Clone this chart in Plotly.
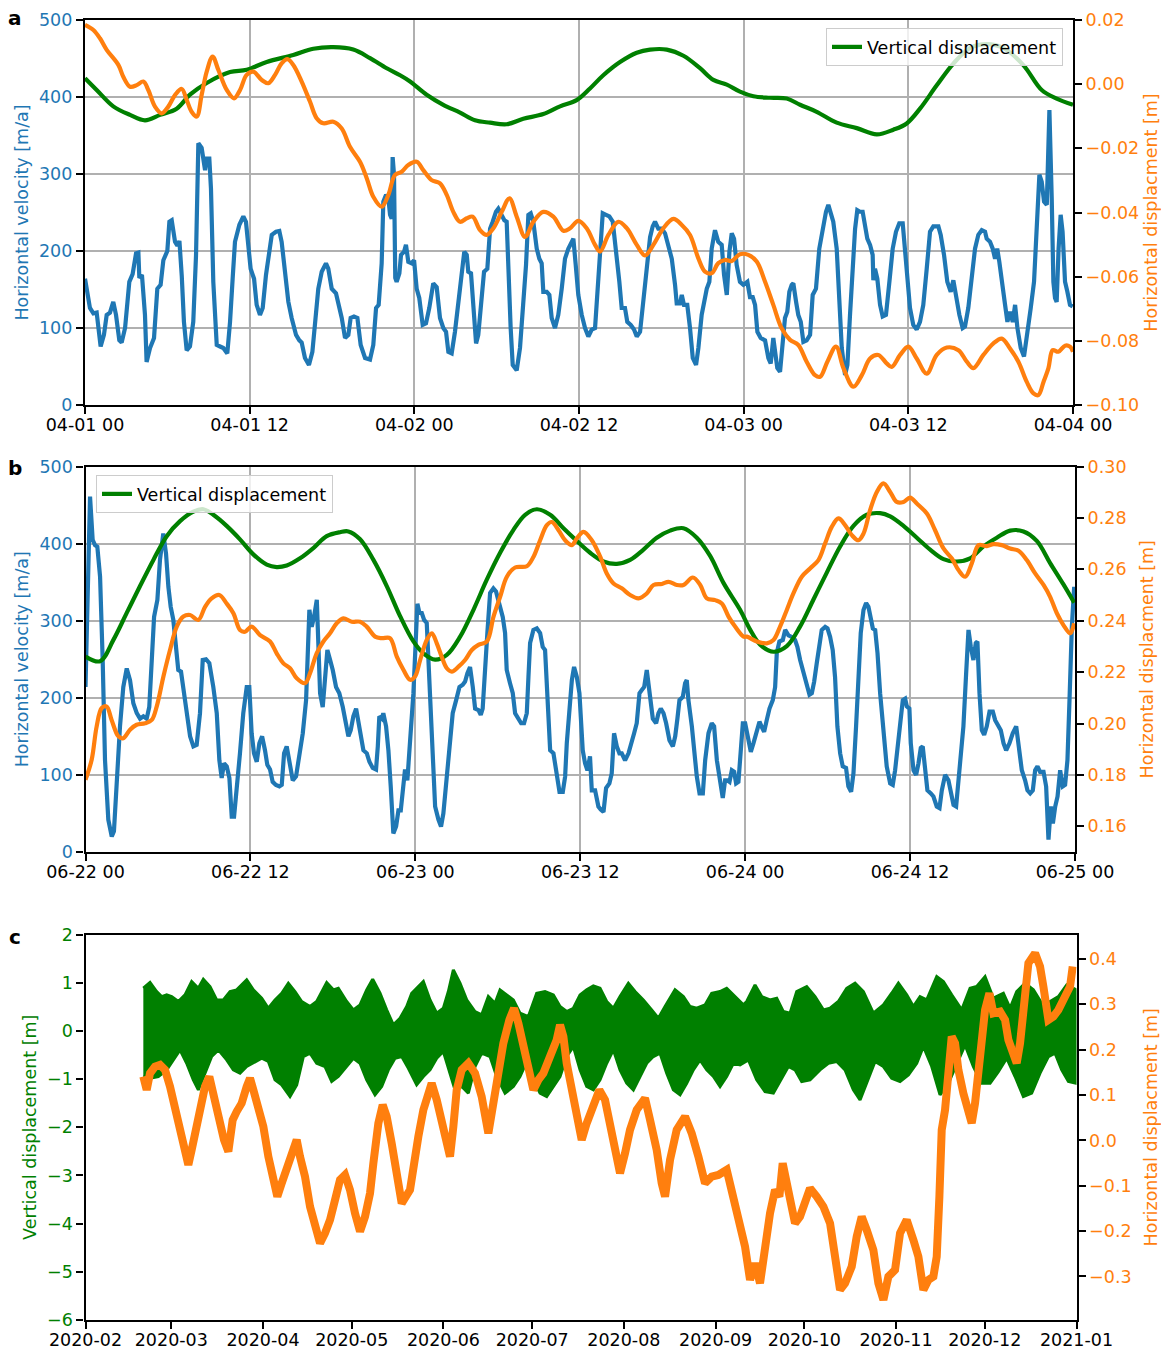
import pandas as pd
import plotly.graph_objects as go

# ---------------------------------------------------------------------------
# Panel a: 1-4 April 2020 (hours since 2020-04-01 00:00, value)
# ---------------------------------------------------------------------------
A_START = "2020-04-01 00:00"

A_VELOCITY = [  # horizontal velocity [m/a]
    (0.00, 164), (0.36, 126), (0.61, 119), (0.85, 120), (1.14, 76), (1.38, 91), (1.58, 117), (1.82, 120),
    (2.06, 134), (2.26, 117), (2.50, 84), (2.67, 81), (2.92, 100), (3.23, 160), (3.47, 170), (3.72, 197),
    (3.89, 198), (3.96, 165), (4.15, 169), (4.37, 117), (4.49, 56), (4.74, 74), (5.03, 87), (5.27, 151),
    (5.51, 156), (5.71, 188), (6.00, 200), (6.15, 238), (6.32, 240), (6.56, 212), (6.73, 207), (6.88, 213),
    (7.05, 168), (7.21, 108), (7.41, 71), (7.65, 76), (7.89, 108), (8.09, 194), (8.26, 340), (8.50, 334),
    (8.75, 305), (8.87, 320), (9.06, 320), (9.18, 281), (9.35, 160), (9.60, 78), (9.84, 76), (10.08, 74),
    (10.37, 67), (10.57, 108), (10.76, 164), (10.93, 212), (11.25, 234), (11.54, 245), (11.73, 238),
    (11.90, 203), (12.07, 177), (12.32, 164), (12.51, 130), (12.75, 117), (12.95, 126), (13.19, 169),
    (13.43, 203), (13.61, 221), (13.92, 225), (14.16, 226), (14.33, 212), (14.58, 173), (14.82, 134),
    (15.06, 113), (15.38, 91), (15.62, 84), (15.79, 81), (16.03, 61), (16.32, 52), (16.57, 69), (16.76, 108),
    (17.00, 151), (17.25, 173), (17.56, 184), (17.73, 177), (17.98, 151), (18.29, 145), (18.46, 132),
    (18.71, 113), (18.95, 87), (19.19, 91), (19.36, 113), (19.60, 115), (19.85, 113), (20.09, 78),
    (20.41, 61), (20.77, 59), (21.01, 78), (21.21, 126), (21.40, 130), (21.62, 184), (21.74, 264),
    (21.94, 273), (22.11, 268), (22.23, 247), (22.35, 242), (22.42, 322), (22.52, 299), (22.61, 165),
    (22.71, 160), (22.91, 171), (23.03, 195), (23.25, 199), (23.39, 208), (23.56, 186), (23.81, 184),
    (23.98, 188), (24.17, 151), (24.36, 139), (24.61, 104), (24.85, 106), (25.09, 126), (25.38, 158),
    (25.63, 153), (25.87, 113), (26.11, 100), (26.31, 95), (26.48, 69), (26.72, 67), (26.96, 95),
    (27.21, 134), (27.45, 177), (27.64, 199), (27.82, 195), (27.93, 173), (28.13, 171), (28.30, 126),
    (28.50, 80), (28.66, 91), (28.91, 134), (29.08, 173), (29.32, 177), (29.52, 229), (29.71, 238),
    (29.95, 251), (30.12, 255), (30.37, 247), (30.56, 240), (30.73, 238), (30.85, 169), (31.02, 100),
    (31.17, 52), (31.46, 45), (31.70, 74), (31.94, 126), (32.14, 182), (32.31, 247), (32.48, 249),
    (32.67, 238), (32.92, 203), (33.11, 190), (33.28, 184), (33.40, 147), (33.65, 147), (33.84, 143),
    (34.01, 113), (34.25, 100), (34.49, 117), (34.74, 151), (34.98, 190), (35.22, 203), (35.47, 212),
    (35.59, 216), (35.76, 182), (35.95, 143), (36.20, 117), (36.44, 100), (36.68, 89), (36.93, 98),
    (37.17, 100), (37.34, 147), (37.53, 203), (37.73, 249), (37.97, 247), (38.21, 245), (38.46, 238),
    (38.70, 203), (38.94, 160), (39.11, 126), (39.35, 126), (39.52, 108), (39.77, 104), (40.01, 98),
    (40.21, 89), (40.45, 95), (40.69, 139), (40.94, 186), (41.18, 218), (41.37, 232), (41.54, 238),
    (41.78, 229), (42.03, 229), (42.27, 223), (42.51, 208), (42.76, 190), (43.00, 156), (43.12, 132),
    (43.36, 132), (43.49, 143), (43.65, 130), (43.89, 130), (44.09, 100), (44.29, 61), (44.53, 52),
    (44.70, 74), (44.94, 117), (45.31, 151), (45.50, 160), (45.67, 203), (45.91, 227), (46.15, 212),
    (46.40, 208), (46.57, 169), (46.77, 143), (46.96, 199), (47.13, 223), (47.30, 216), (47.49, 182),
    (47.73, 160), (47.98, 156), (48.10, 158), (48.27, 160), (48.46, 140), (48.66, 140), (48.83, 130),
    (49.00, 95), (49.24, 87), (49.56, 84), (49.80, 61), (49.97, 54), (50.16, 87), (50.28, 69), (50.45, 48),
    (50.65, 43), (50.84, 87), (51.01, 113), (51.18, 121), (51.33, 147), (51.50, 156), (51.62, 158),
    (51.82, 134), (51.98, 117), (52.16, 108), (52.35, 82), (52.59, 84), (52.84, 91), (53.03, 143),
    (53.27, 151), (53.51, 203), (53.76, 229), (54.00, 251), (54.17, 260), (54.34, 247), (54.53, 238),
    (54.78, 203), (54.97, 130), (55.15, 74), (55.39, 39), (55.56, 52), (55.75, 117), (55.95, 177),
    (56.12, 229), (56.28, 253), (56.48, 251), (56.67, 251), (56.84, 229), (57.01, 216), (57.21, 208),
    (57.40, 195), (57.45, 162), (57.57, 177), (57.74, 164), (57.94, 130), (58.13, 115), (58.37, 117),
    (58.62, 160), (58.86, 203), (59.10, 225), (59.34, 236), (59.59, 236), (59.76, 195), (59.93, 160),
    (60.12, 126), (60.36, 104), (60.61, 98), (60.85, 108), (61.09, 130), (61.34, 177), (61.58, 225),
    (61.82, 232), (62.19, 232), (62.36, 221), (62.60, 195), (62.84, 160), (63.09, 147), (63.28, 162),
    (63.48, 139), (63.72, 117), (63.96, 100), (64.13, 102), (64.37, 126), (64.62, 160), (64.86, 203),
    (65.10, 221), (65.35, 227), (65.59, 225), (65.71, 216), (65.95, 212), (66.15, 203), (66.32, 190),
    (66.48, 203), (66.63, 186), (66.80, 160), (67.05, 130), (67.22, 108), (67.41, 121), (67.61, 108),
    (67.78, 130), (67.95, 100), (68.19, 74), (68.43, 63), (68.67, 91), (68.92, 126), (69.16, 160),
    (69.36, 225), (69.55, 299), (69.72, 290), (69.89, 264), (70.09, 260), (70.28, 383), (70.45, 268),
    (70.57, 160), (70.69, 139), (70.81, 134), (70.95, 203), (71.10, 247), (71.24, 225), (71.42, 160),
    (71.59, 147), (71.78, 130), (71.98, 128),
]

A_HDISP = [  # horizontal displacement [m]
    (0.00, 0.0185), (0.61, 0.0169), (1.09, 0.0143), (1.58, 0.0107), (2.43, 0.0060), (2.79, 0.0023),
    (3.28, -0.0008), (3.77, -0.0003), (4.25, 0.0008), (4.62, -0.0019), (5.10, -0.0070), (5.59, -0.0091),
    (6.07, -0.0070), (6.56, -0.0034), (7.05, -0.0015), (7.41, -0.0049), (7.77, -0.0086), (8.14, -0.0101),
    (8.50, -0.0034), (8.87, 0.0039), (9.30, 0.0086), (9.72, 0.0044), (10.33, -0.0018), (10.86, -0.0044),
    (11.30, -0.0018), (11.78, 0.0029), (12.27, 0.0039), (12.88, 0.0013), (13.36, 0.0003), (13.85, 0.0029),
    (14.33, 0.0065), (14.75, 0.0078), (15.18, 0.0060), (15.79, 0.0008), (16.40, -0.0055), (16.88, -0.0106),
    (17.37, -0.0122), (18.10, -0.0117), (18.71, -0.0138), (19.31, -0.0195), (20.04, -0.0242),
    (20.53, -0.0293), (21.01, -0.0351), (21.62, -0.0382), (22.11, -0.0345), (22.59, -0.0283),
    (23.08, -0.0273), (23.56, -0.0252), (24.17, -0.0242), (24.65, -0.0268), (25.26, -0.0299),
    (25.87, -0.0309), (26.36, -0.0345), (26.84, -0.0398), (27.33, -0.0429), (27.82, -0.0418),
    (28.25, -0.0413), (28.79, -0.0455), (29.27, -0.0470), (29.76, -0.0449), (30.37, -0.0398),
    (30.93, -0.0356), (31.46, -0.0413), (32.07, -0.0476), (32.67, -0.0429), (33.40, -0.0398),
    (34.13, -0.0413), (34.86, -0.0457), (35.35, -0.0449), (35.95, -0.0426), (36.56, -0.0449),
    (37.17, -0.0501), (37.53, -0.0522), (38.14, -0.0470), (38.87, -0.0429), (39.48, -0.0449),
    (40.21, -0.0501), (40.81, -0.0534), (41.42, -0.0501), (42.15, -0.0449), (42.88, -0.0420),
    (43.49, -0.0439), (44.09, -0.0470), (44.70, -0.0543), (45.18, -0.0584), (45.67, -0.0589),
    (46.15, -0.0558), (46.64, -0.0548), (47.13, -0.0551), (47.73, -0.0530), (48.34, -0.0532),
    (48.95, -0.0553), (49.56, -0.0616), (50.16, -0.0688), (50.77, -0.0761), (51.38, -0.0797),
    (51.98, -0.0813), (52.59, -0.0865), (53.20, -0.0907), (53.57, -0.0912), (54.10, -0.0865),
    (54.73, -0.0818), (55.27, -0.0885), (56.00, -0.0943), (56.61, -0.0907), (57.21, -0.0855),
    (57.81, -0.0844), (58.42, -0.0870), (58.79, -0.0881), (59.40, -0.0844), (60.00, -0.0818),
    (60.61, -0.0855), (61.34, -0.0902), (62.07, -0.0844), (62.80, -0.0821), (63.65, -0.0829),
    (64.26, -0.0865), (64.74, -0.0885), (65.47, -0.0844), (66.20, -0.0808), (66.81, -0.0793),
    (67.41, -0.0824), (68.02, -0.0865), (68.63, -0.0928), (69.12, -0.0964), (69.48, -0.0969),
    (69.85, -0.0928), (70.21, -0.0885), (70.52, -0.0829), (70.93, -0.0834), (71.42, -0.0815),
    (71.78, -0.0818), (72.00, -0.0834),
]

A_VDISP = [  # vertical displacement [m]
    (0.00, 0.10), (0.85, -0.05), (2.06, -0.26), (3.28, -0.37), (4.37, -0.44), (5.47, -0.37), (6.68, -0.29),
    (7.65, -0.11), (8.87, 0.04), (10.57, 0.18), (11.78, 0.21), (13.24, 0.31), (15.18, 0.40), (16.64, 0.48),
    (18.10, 0.50), (19.55, 0.47), (20.77, 0.36), (21.99, 0.23), (22.96, 0.14), (23.69, 0.06),
    (24.90, -0.11), (26.11, -0.24), (27.33, -0.34), (28.42, -0.44), (29.52, -0.47), (30.73, -0.49),
    (31.94, -0.42), (33.40, -0.36), (34.62, -0.26), (35.83, -0.18), (36.80, -0.03), (37.77, 0.14),
    (38.99, 0.31), (40.21, 0.43), (41.18, 0.47), (42.39, 0.47), (43.61, 0.39), (44.82, 0.23), (45.79, 0.08),
    (46.77, 0.02), (47.73, -0.07), (48.71, -0.13), (49.92, -0.15), (51.14, -0.16), (52.11, -0.24),
    (53.32, -0.33), (54.78, -0.47), (56.24, -0.54), (57.70, -0.62), (58.91, -0.56), (59.88, -0.48),
    (60.85, -0.29), (62.07, 0.01), (63.28, 0.29), (64.50, 0.49), (65.71, 0.54), (66.92, 0.49), (68.38, 0.27),
    (69.72, -0.05), (70.81, -0.16), (72.00, -0.24),
]

# ---------------------------------------------------------------------------
# Panel b: 22-25 June 2020 (hours since 2020-06-22 00:00, value)
# ---------------------------------------------------------------------------
B_START = "2020-06-22 00:00"

B_VELOCITY = [
    (0.00, 214), (0.33, 461), (0.52, 405), (0.69, 398), (0.86, 396), (1.06, 357), (1.25, 249), (1.42, 119),
    (1.66, 42), (1.91, 20), (2.07, 27), (2.27, 93), (2.51, 163), (2.75, 214), (3.00, 238), (3.24, 223),
    (3.48, 193), (3.73, 180), (3.97, 173), (4.21, 176), (4.45, 173), (4.64, 188), (4.82, 249), (4.99, 305),
    (5.23, 327), (5.42, 379), (5.66, 413), (5.86, 387), (6.03, 344), (6.20, 318), (6.39, 301), (6.59, 262),
    (6.75, 236), (6.95, 234), (7.17, 206), (7.36, 188), (7.61, 150), (7.85, 137), (8.09, 139), (8.33, 180),
    (8.53, 249), (8.77, 250), (9.01, 245), (9.30, 214), (9.55, 180), (9.74, 119), (9.91, 96), (10.08, 115),
    (10.28, 111), (10.47, 96), (10.64, 46), (10.81, 46), (11.01, 80), (11.24, 128), (11.48, 180),
    (11.73, 214), (11.92, 214), (12.09, 154), (12.26, 128), (12.46, 117), (12.65, 141), (12.85, 150),
    (13.06, 132), (13.23, 113), (13.43, 107), (13.62, 91), (13.86, 87), (14.11, 85), (14.28, 87),
    (14.45, 128), (14.64, 137), (14.83, 119), (15.08, 93), (15.32, 98), (15.56, 128), (15.81, 154),
    (16.05, 197), (16.29, 314), (16.46, 292), (16.63, 305), (16.83, 327), (16.94, 284), (17.07, 206),
    (17.26, 188), (17.43, 223), (17.60, 262), (17.80, 249), (17.99, 236), (18.23, 214), (18.47, 206),
    (18.72, 188), (18.96, 163), (19.13, 150), (19.30, 158), (19.49, 176), (19.69, 186), (19.86, 167),
    (20.03, 150), (20.22, 132), (20.47, 128), (20.66, 117), (20.90, 109), (21.14, 107), (21.27, 137),
    (21.38, 176), (21.56, 173), (21.67, 180), (21.87, 163), (22.04, 132), (22.21, 85), (22.40, 24),
    (22.60, 33), (22.77, 54), (22.94, 54), (23.09, 85), (23.25, 107), (23.42, 93), (23.62, 154),
    (23.86, 206), (24.15, 322), (24.30, 310), (24.47, 310), (24.64, 301), (24.83, 297), (25.07, 206),
    (25.27, 141), (25.44, 59), (25.68, 42), (25.87, 33), (26.04, 50), (26.29, 98), (26.53, 141),
    (26.72, 180), (26.97, 197), (27.21, 214), (27.45, 217), (27.62, 221), (27.79, 232), (27.98, 240),
    (28.18, 214), (28.35, 186), (28.59, 184), (28.76, 178), (28.90, 186), (29.07, 227), (29.24, 284),
    (29.44, 336), (29.68, 342), (29.87, 338), (30.12, 323), (30.36, 305), (30.53, 284), (30.65, 236),
    (30.89, 219), (31.09, 206), (31.26, 180), (31.50, 173), (31.70, 167), (31.91, 167), (32.11, 180),
    (32.23, 227), (32.35, 271), (32.59, 288), (32.84, 290), (33.08, 284), (33.27, 266), (33.44, 262),
    (33.56, 227), (33.69, 184), (33.81, 132), (34.05, 128), (34.29, 98), (34.49, 78), (34.73, 78),
    (34.90, 98), (35.02, 141), (35.21, 184), (35.39, 223), (35.55, 240), (35.75, 227), (35.94, 206),
    (36.11, 163), (36.18, 132), (36.35, 115), (36.52, 106), (36.71, 124), (36.84, 80), (37.08, 80),
    (37.32, 59), (37.49, 55), (37.69, 52), (37.88, 83), (38.12, 89), (38.29, 102), (38.46, 154),
    (38.66, 137), (38.85, 128), (39.02, 128), (39.26, 119), (39.51, 128), (39.75, 141), (39.92, 154),
    (40.11, 167), (40.31, 206), (40.48, 210), (40.65, 214), (40.84, 236), (41.04, 206), (41.28, 173),
    (41.52, 167), (41.69, 180), (41.86, 186), (42.06, 180), (42.25, 167), (42.49, 145), (42.74, 137),
    (42.91, 150), (43.07, 173), (43.22, 197), (43.46, 201), (43.63, 219), (43.75, 223), (43.87, 197),
    (44.12, 163), (44.29, 124), (44.48, 98), (44.68, 76), (44.92, 76), (45.09, 119), (45.33, 154),
    (45.57, 167), (45.74, 163), (45.94, 119), (46.18, 89), (46.37, 70), (46.54, 93), (46.71, 93),
    (46.86, 91), (47.03, 106), (47.20, 104), (47.34, 89), (47.51, 91), (47.64, 119), (47.83, 167),
    (48.00, 167), (48.17, 150), (48.41, 130), (48.60, 141), (48.85, 158), (49.04, 169), (49.21, 162),
    (49.38, 156), (49.57, 171), (49.77, 186), (50.01, 197), (50.18, 214), (50.30, 258), (50.49, 273),
    (50.74, 275), (50.91, 288), (51.15, 281), (51.39, 279), (51.63, 275), (51.80, 266), (52.00, 249),
    (52.24, 232), (52.48, 214), (52.68, 204), (52.85, 206), (53.02, 221), (53.21, 245), (53.40, 266),
    (53.57, 288), (53.82, 292), (53.99, 290), (54.18, 279), (54.37, 262), (54.54, 227), (54.71, 163),
    (54.91, 128), (55.10, 111), (55.34, 109), (55.51, 85), (55.71, 78), (55.88, 102), (56.07, 163),
    (56.24, 227), (56.41, 284), (56.61, 314), (56.80, 323), (56.97, 318), (57.14, 305), (57.29, 290),
    (57.46, 288), (57.63, 258), (57.82, 206), (58.06, 154), (58.30, 111), (58.55, 89), (58.74, 87),
    (58.91, 106), (59.08, 137), (59.27, 171), (59.47, 197), (59.64, 199), (59.76, 189), (59.95, 186),
    (60.05, 141), (60.25, 106), (60.44, 100), (60.61, 115), (60.78, 135), (60.92, 137), (61.09, 111),
    (61.26, 80), (61.51, 76), (61.70, 72), (61.94, 59), (62.14, 57), (62.31, 80), (62.55, 100),
    (62.79, 93), (62.96, 76), (63.16, 61), (63.35, 59), (63.52, 93), (63.69, 128), (63.88, 163),
    (64.08, 232), (64.25, 288), (64.42, 266), (64.61, 249), (64.78, 271), (64.90, 273), (65.05, 206),
    (65.22, 158), (65.39, 152), (65.58, 163), (65.78, 182), (66.02, 182), (66.19, 171), (66.43, 163),
    (66.60, 158), (66.80, 141), (66.99, 132), (67.23, 141), (67.47, 154), (67.72, 163), (67.89, 141),
    (68.13, 106), (68.37, 93), (68.54, 80), (68.74, 76), (68.93, 80), (69.10, 106), (69.27, 111),
    (69.46, 104), (69.71, 104), (69.90, 85), (70.07, 16), (70.24, 59), (70.39, 37), (70.56, 59),
    (70.73, 72), (70.92, 106), (71.11, 85), (71.28, 87), (71.45, 119), (71.60, 197), (71.77, 292),
    (71.94, 344),
]

B_HDISP = [
    (0.00, 0.1781), (0.45, 0.1859), (0.81, 0.1988), (1.18, 0.2060), (1.54, 0.2066), (1.90, 0.2014),
    (2.39, 0.1950), (2.75, 0.1943), (3.24, 0.1976), (3.72, 0.1995), (4.33, 0.2001), (4.82, 0.2014),
    (5.18, 0.2066), (5.67, 0.2183), (6.15, 0.2286), (6.64, 0.2377), (7.12, 0.2416), (7.61, 0.2422),
    (8.21, 0.2403), (8.70, 0.2454), (9.18, 0.2487), (9.74, 0.2500), (10.27, 0.2467), (10.76, 0.2429),
    (11.24, 0.2364), (11.61, 0.2357), (12.09, 0.2377), (12.70, 0.2344), (13.43, 0.2319), (13.91, 0.2273),
    (14.40, 0.2234), (14.88, 0.2215), (15.37, 0.2176), (15.98, 0.2157), (16.34, 0.2196), (16.82, 0.2273),
    (17.31, 0.2319), (17.79, 0.2351), (18.28, 0.2390), (18.76, 0.2409), (19.37, 0.2396), (19.98, 0.2396),
    (20.46, 0.2377), (21.07, 0.2338), (21.56, 0.2332), (22.16, 0.2332), (22.65, 0.2260), (23.13, 0.2209),
    (23.62, 0.2170), (23.98, 0.2183), (24.35, 0.2247), (24.83, 0.2325), (25.20, 0.2351), (25.56, 0.2312),
    (25.92, 0.2260), (26.29, 0.2215), (26.65, 0.2202), (27.14, 0.2221), (27.62, 0.2247), (28.11, 0.2286),
    (28.59, 0.2306), (29.20, 0.2319), (29.69, 0.2416), (30.17, 0.2493), (30.66, 0.2571), (31.26, 0.2607),
    (32.11, 0.2612), (32.60, 0.2649), (33.08, 0.2713), (33.57, 0.2772), (33.93, 0.2784), (34.42, 0.2752),
    (34.90, 0.2713), (35.39, 0.2694), (35.75, 0.2720), (36.24, 0.2746), (36.84, 0.2713), (37.45, 0.2649),
    (37.93, 0.2584), (38.42, 0.2545), (39.02, 0.2526), (39.63, 0.2500), (40.24, 0.2487), (40.84, 0.2506),
    (41.33, 0.2539), (41.94, 0.2543), (42.42, 0.2551), (43.03, 0.2539), (43.51, 0.2539), (44.19, 0.2568),
    (44.73, 0.2539), (45.21, 0.2487), (45.82, 0.2480), (46.30, 0.2467), (46.79, 0.2416), (47.27, 0.2377),
    (47.88, 0.2338), (48.12, 0.2338), (48.84, 0.2319), (49.57, 0.2312), (50.06, 0.2325), (50.54, 0.2377),
    (51.03, 0.2442), (51.51, 0.2506), (52.12, 0.2571), (52.72, 0.2603), (53.33, 0.2636), (53.82, 0.2701),
    (54.30, 0.2765), (54.79, 0.2798), (55.27, 0.2772), (55.76, 0.2733), (56.24, 0.2713), (56.61, 0.2739),
    (57.09, 0.2830), (57.58, 0.2901), (58.06, 0.2934), (58.55, 0.2901), (59.03, 0.2862), (59.52, 0.2862),
    (60.00, 0.2879), (60.49, 0.2856), (61.22, 0.2817), (61.82, 0.2752), (62.43, 0.2681), (63.04, 0.2642),
    (63.52, 0.2597), (64.01, 0.2571), (64.49, 0.2623), (64.98, 0.2694), (65.58, 0.2690), (66.07, 0.2698),
    (66.67, 0.2694), (67.28, 0.2681), (67.89, 0.2672), (68.49, 0.2636), (69.10, 0.2584), (69.71, 0.2539),
    (70.19, 0.2493), (70.68, 0.2429), (71.16, 0.2383), (71.65, 0.2351), (71.94, 0.2390),
]

B_VDISP = [
    (0.00, -0.96), (1.06, -1.02), (2.03, -0.75), (3.00, -0.41), (3.97, -0.07), (4.94, 0.26), (5.91, 0.56),
    (6.88, 0.75), (7.85, 0.87), (8.58, 0.90), (9.30, 0.83), (10.27, 0.69), (11.24, 0.52), (12.21, 0.33),
    (13.19, 0.20), (13.91, 0.17), (14.64, 0.19), (15.61, 0.28), (16.58, 0.41), (17.55, 0.56), (18.52, 0.61),
    (19.13, 0.62), (19.98, 0.52), (20.95, 0.26), (21.92, -0.07), (22.89, -0.45), (23.86, -0.77),
    (24.59, -0.92), (25.44, -1.00), (26.29, -0.94), (27.26, -0.71), (28.23, -0.37), (29.20, 0.01),
    (30.17, 0.35), (31.14, 0.64), (31.99, 0.83), (32.84, 0.90), (33.81, 0.83), (34.78, 0.66), (35.75, 0.50),
    (36.72, 0.35), (37.69, 0.24), (38.66, 0.21), (39.63, 0.26), (40.60, 0.39), (41.57, 0.54), (42.54, 0.63),
    (43.51, 0.66), (44.48, 0.54), (45.45, 0.31), (46.42, -0.03), (47.63, -0.37), (48.36, -0.62),
    (49.09, -0.81), (50.06, -0.90), (51.03, -0.83), (52.00, -0.58), (52.97, -0.24), (53.94, 0.10),
    (54.91, 0.43), (55.88, 0.69), (56.85, 0.83), (57.82, 0.85), (58.55, 0.81), (59.52, 0.69), (60.49, 0.54),
    (61.46, 0.39), (62.43, 0.27), (63.40, 0.24), (64.37, 0.28), (65.34, 0.43), (66.31, 0.54), (67.28, 0.63),
    (68.25, 0.62), (69.22, 0.50), (70.19, 0.22), (71.16, -0.05), (71.94, -0.28),
]

# ---------------------------------------------------------------------------
# Panel c: Feb 2020 - Jan 2021 (days since 2020-02-01, value)
# The tidal vertical signal is given by its upper and lower envelopes.
# ---------------------------------------------------------------------------
C_START = "2020-02-01"

C_VDISP_UPPER = [
    (19.55, 0.885), (21.81, 1.003), (24.06, 0.816), (25.75, 0.712), (27.44, 0.747), (29.13, 0.712),
    (31.38, 0.609), (33.64, 0.747), (35.89, 1.023), (38.14, 0.885), (39.83, 1.072), (42.09, 0.920),
    (44.34, 0.643), (46.60, 0.643), (48.85, 0.816), (51.11, 0.851), (54.49, 1.058), (56.74, 0.851),
    (59.56, 0.678), (61.81, 0.470), (64.06, 0.643), (66.32, 0.781), (68.57, 0.989), (70.82, 0.816),
    (73.08, 0.609), (75.90, 0.505), (78.15, 0.609), (81.53, 1.003), (83.78, 0.851), (85.47, 0.885),
    (88.29, 0.609), (90.55, 0.436), (92.80, 0.539), (95.05, 0.851), (97.08, 1.072), (99.56, 0.781),
    (101.81, 0.436), (104.07, 0.124), (106.32, 0.263), (108.58, 0.505), (110.27, 0.781), (111.95, 0.885),
    (114.21, 1.023), (116.46, 0.643), (118.72, 0.367), (120.97, 0.470), (122.66, 0.816), (124.35, 1.266),
    (126.60, 0.989), (128.86, 0.643), (131.67, 0.401), (133.93, 0.332), (136.18, 0.712), (138.44, 0.574),
    (140.13, 0.851), (142.38, 0.747), (144.63, 0.643), (146.89, 0.367), (149.70, 0.297), (152.52, 0.781),
    (155.34, 0.816), (158.16, 0.747), (160.41, 0.505), (162.66, 0.401), (164.92, 0.470), (167.17, 0.747),
    (169.43, 0.851), (171.68, 0.934), (173.93, 0.885), (176.19, 0.609), (178.44, 0.470), (180.69, 0.712),
    (183.51, 0.989), (185.77, 0.816), (188.58, 0.643), (191.40, 0.436), (193.65, 0.263), (195.91, 0.505),
    (199.29, 0.851), (202.10, 0.712), (204.36, 0.505), (206.61, 0.470), (209.43, 0.539), (211.68, 0.781),
    (214.50, 0.816), (216.75, 0.885), (219.57, 0.712), (222.39, 0.539), (223.51, 0.609), (226.33, 0.954),
    (228.59, 0.712), (231.40, 0.643), (233.66, 0.678), (235.91, 0.401), (238.16, 0.367), (240.42, 0.816),
    (243.80, 0.920), (246.62, 0.712), (249.43, 0.436), (251.69, 0.470), (254.50, 0.609), (257.32, 0.885),
    (260.14, 0.989), (262.96, 0.816), (266.33, 0.367), (269.72, 0.539), (272.53, 0.781), (274.79, 0.989),
    (277.61, 0.747), (279.86, 0.505), (282.11, 0.712), (284.37, 0.643), (287.75, 1.127), (290.00, 1.023),
    (292.82, 0.747), (296.20, 0.436), (299.02, 0.885), (301.27, 0.920), (304.09, 1.127), (306.90, 0.678),
    (310.28, 0.781), (312.54, 0.470), (314.79, 0.816), (317.61, 0.989), (320.43, 0.851), (323.24, 0.574),
    (326.06, 0.609), (328.88, 0.712), (331.69, 0.954), (334.90, 0.851),
]

C_VDISP_LOWER = [
    (19.55, -0.947), (21.81, -0.982), (24.62, -0.947), (27.44, -0.809), (29.69, -0.602), (31.95, -0.394),
    (34.20, -0.671), (36.45, -1.017), (38.14, -1.224), (40.40, -0.878), (42.65, -0.533), (44.91, -0.394),
    (47.72, -0.602), (49.98, -0.809), (52.23, -0.878), (54.49, -0.740), (56.74, -0.671), (59.56, -0.567),
    (61.81, -0.636), (64.06, -1.017), (66.32, -1.120), (69.13, -1.362), (71.39, -1.120), (73.64, -0.533),
    (75.90, -0.463), (78.15, -0.671), (80.97, -0.740), (83.22, -1.051), (85.47, -0.947), (88.29, -0.740),
    (90.55, -0.567), (92.80, -0.671), (95.05, -1.017), (97.87, -1.328), (100.12, -1.155), (102.38, -0.809),
    (104.63, -0.567), (106.89, -0.533), (109.14, -0.775), (111.95, -1.120), (114.21, -0.947),
    (116.46, -0.809), (118.72, -0.567), (120.97, -0.429), (122.66, -0.740), (124.91, -1.224),
    (127.17, -1.155), (129.42, -1.293), (131.67, -0.740), (133.93, -0.463), (136.75, -0.533),
    (139.00, -0.947), (141.82, -1.293), (144.63, -1.155), (146.89, -0.947), (149.14, -0.636),
    (151.40, -1.017), (153.65, -1.293), (155.90, -1.362), (158.16, -1.155), (160.41, -0.947),
    (162.66, -0.533), (164.92, -0.325), (167.17, -0.809), (169.43, -1.155), (171.68, -1.224),
    (173.93, -1.017), (176.19, -0.671), (178.44, -0.394), (180.69, -0.809), (182.95, -1.086),
    (185.20, -1.224), (187.46, -0.947), (189.71, -0.671), (191.96, -0.533), (194.22, -0.463),
    (196.47, -0.878), (198.72, -1.224), (200.98, -1.328), (203.23, -1.086), (205.48, -0.809),
    (207.74, -0.602), (209.99, -0.809), (212.25, -0.947), (214.50, -1.155), (216.75, -0.947),
    (219.01, -0.671), (221.26, -0.705), (224.08, -0.602), (226.89, -1.017), (229.71, -1.259),
    (232.53, -1.293), (234.78, -1.051), (237.60, -0.740), (239.85, -0.809), (242.11, -1.051),
    (244.92, -1.017), (248.30, -0.809), (251.12, -0.671), (253.94, -0.636), (256.76, -0.809),
    (259.57, -1.224), (261.83, -1.432), (264.08, -1.086), (266.90, -0.636), (269.72, -0.740),
    (272.53, -0.982), (275.35, -1.051), (278.17, -0.913), (280.99, -0.671), (283.24, -0.325),
    (286.06, -0.740), (288.87, -1.328), (291.69, -1.086), (294.51, -0.671), (297.33, -0.290),
    (300.14, -0.740), (302.96, -1.086), (305.78, -1.086), (308.59, -0.844), (311.41, -0.567),
    (314.23, -0.947), (317.05, -1.362), (319.86, -1.293), (322.68, -0.878), (325.50, -0.533),
    (327.75, -0.463), (330.00, -0.809), (332.26, -1.051), (334.90, -1.086),
]

C_HDISP = [
    (19.55, 0.1408), (20.68, 0.1114), (21.81, 0.1481), (23.50, 0.1628), (25.19, 0.1665), (26.88, 0.1555),
    (28.57, 0.1187), (30.26, 0.0673), (31.95, 0.0158), (33.64, -0.0246), (34.76, -0.0540), (35.89, -0.0209),
    (37.58, 0.0305), (39.27, 0.0820), (40.40, 0.1187), (41.86, 0.1408), (42.99, 0.1040), (44.34, 0.0673),
    (45.47, 0.0379), (46.82, 0.0011), (48.29, -0.0246), (49.08, 0.0158), (49.75, 0.0452), (51.11, 0.0636),
    (52.80, 0.0820), (54.49, 0.1187), (55.61, 0.1371), (56.74, 0.1114), (58.43, 0.0673), (60.12, 0.0305),
    (61.81, -0.0357), (63.50, -0.0944), (64.85, -0.1239), (66.32, -0.0944), (68.01, -0.0650),
    (69.70, -0.0357), (71.39, 0.0011), (72.51, -0.0357), (74.20, -0.0798), (75.90, -0.1459),
    (77.59, -0.1900), (79.28, -0.2268), (80.97, -0.2047), (82.66, -0.1753), (84.35, -0.1312),
    (86.04, -0.0871), (87.73, -0.0761), (89.42, -0.1092), (91.11, -0.1606), (92.80, -0.2010),
    (94.49, -0.1680), (96.18, -0.1165), (97.31, -0.0503), (99.00, 0.0379), (100.46, 0.0783),
    (101.81, 0.0526), (103.50, -0.0062), (105.20, -0.0650), (106.89, -0.1386), (109.70, -0.1092),
    (110.83, -0.0503), (112.52, 0.0085), (114.21, 0.0673), (115.90, 0.1114), (117.02, 0.1261),
    (118.72, 0.0893), (120.41, 0.0379), (121.87, -0.0136), (123.22, -0.0357), (124.35, 0.0305),
    (125.48, 0.1114), (127.17, 0.1555), (129.42, 0.1702), (131.67, 0.1481), (133.93, 0.0967),
    (136.18, 0.0158), (137.87, 0.0820), (139.56, 0.1555), (141.25, 0.2143), (143.28, 0.2657),
    (144.86, 0.2914), (146.32, 0.2584), (148.01, 0.2069), (149.70, 0.1702), (151.40, 0.1114),
    (153.09, 0.1334), (154.78, 0.1481), (157.03, 0.1849), (159.28, 0.2216), (160.41, 0.2547),
    (161.54, 0.2290), (162.66, 0.1702), (164.35, 0.1114), (166.05, 0.0379), (167.74, 0.0011),
    (169.43, 0.0379), (171.68, 0.0746), (173.71, 0.1114), (175.62, 0.0893), (177.31, 0.0379),
    (179.00, -0.0209), (180.69, -0.0724), (182.38, -0.0283), (184.07, 0.0232), (186.33, 0.0673),
    (189.14, 0.0930), (190.84, 0.0452), (193.09, -0.0209), (194.78, -0.0944), (195.91, -0.1239),
    (197.60, -0.0430), (199.85, 0.0232), (202.67, 0.0526), (204.92, 0.0158), (207.18, -0.0357),
    (209.43, -0.0944), (211.68, -0.0798), (213.94, -0.0761), (216.75, -0.0650), (218.44, -0.1092),
    (220.70, -0.1680), (222.95, -0.2341), (224.64, -0.3076), (226.33, -0.2709), (228.02, -0.3150),
    (229.71, -0.2341), (231.40, -0.1606), (233.09, -0.1092), (234.56, -0.1239), (235.68, -0.0503),
    (237.04, -0.0944), (238.16, -0.1459), (239.85, -0.1826), (241.54, -0.1680), (243.23, -0.1386),
    (244.92, -0.1055), (247.18, -0.1239), (249.43, -0.1459), (251.69, -0.1826), (253.38, -0.2562),
    (255.07, -0.3297), (256.76, -0.3150), (259.01, -0.2782), (260.70, -0.2121), (262.39, -0.1680),
    (264.08, -0.1974), (266.33, -0.2415), (268.03, -0.3150), (269.72, -0.3517), (271.41, -0.3003),
    (273.66, -0.2856), (275.35, -0.2047), (277.61, -0.1753), (279.86, -0.2194), (281.55, -0.2562),
    (283.24, -0.3297), (284.93, -0.3076), (286.62, -0.3003), (287.75, -0.2562), (288.65, -0.1239),
    (289.44, 0.0232), (290.56, 0.0673), (291.69, 0.1334), (292.82, 0.2290), (293.94, 0.2143),
    (295.07, 0.1555), (296.76, 0.1040), (298.45, 0.0673), (299.58, 0.0379), (300.71, 0.0820),
    (301.83, 0.1408), (302.96, 0.2216), (304.09, 0.2878), (305.55, 0.3245), (306.90, 0.2804),
    (309.16, 0.2841), (310.85, 0.2657), (311.98, 0.2216), (313.10, 0.1996), (314.79, 0.1702),
    (315.92, 0.2143), (317.05, 0.3025), (318.74, 0.3907), (320.99, 0.4127), (322.68, 0.3833),
    (323.81, 0.3392), (325.50, 0.2657), (327.19, 0.2731), (328.88, 0.2878), (331.13, 0.3172),
    (332.82, 0.3392), (333.72, 0.3833),
]

# Axis settings
A_VEL_RANGE, A_HD_RANGE, A_VD_RANGE = [0, 500], [-0.10, 0.02], [-4.10, 0.85]
B_VEL_RANGE, B_HD_RANGE, B_VD_RANGE = [0, 500], [0.150, 0.300], [-3.43, 1.44]
C_VD_RANGE, C_HD_RANGE = [-6, 2], [-0.396, 0.454]

# ---------------------------------------------------------------------------
BLUE, ORANGE, GREEN = "#1f77b4", "#ff7f0e", "#008000"
FONT = "DejaVu Sans"
FS = 17.5
W, H = 1161, 1351


def hours_to_time(start, pairs):
    t0 = pd.Timestamp(start)
    return [t0 + pd.to_timedelta(h, unit="h") for h, _ in pairs], [v for _, v in pairs]


def days_to_time(start, pairs):
    t0 = pd.Timestamp(start)
    return [t0 + pd.to_timedelta(d, unit="D") for d, _ in pairs], [v for _, v in pairs]


def xdom(left, right):
    return [left / W, right / W]


def ydom(top, bottom):
    return [1 - bottom / H, 1 - top / H]


fig = go.Figure()

# ---- panel a ----
t, v = hours_to_time(A_START, A_VELOCITY)
fig.add_trace(go.Scatter(x=t, y=v, xaxis="x", yaxis="y", mode="lines",
                         line=dict(color=BLUE, width=4.2), showlegend=False))
t, v = hours_to_time(A_START, A_VDISP)
fig.add_trace(go.Scatter(x=t, y=v, xaxis="x", yaxis="y2", mode="lines", line_shape="spline",
                         line=dict(color=GREEN, width=4.2), name="Vertical displacement",
                         legend="legend", showlegend=True))
t, v = hours_to_time(A_START, A_HDISP)
fig.add_trace(go.Scatter(x=t, y=v, xaxis="x", yaxis="y3", mode="lines", line_shape="spline",
                         line=dict(color=ORANGE, width=4.2), showlegend=False))

# ---- panel b ----
t, v = hours_to_time(B_START, B_VELOCITY)
fig.add_trace(go.Scatter(x=t, y=v, xaxis="x2", yaxis="y4", mode="lines",
                         line=dict(color=BLUE, width=4.2), showlegend=False))
t, v = hours_to_time(B_START, B_VDISP)
fig.add_trace(go.Scatter(x=t, y=v, xaxis="x2", yaxis="y5", mode="lines", line_shape="spline",
                         line=dict(color=GREEN, width=4.2), name="Vertical displacement",
                         legend="legend2", showlegend=True))
t, v = hours_to_time(B_START, B_HDISP)
fig.add_trace(go.Scatter(x=t, y=v, xaxis="x2", yaxis="y6", mode="lines", line_shape="spline",
                         line=dict(color=ORANGE, width=4.2), showlegend=False))

# ---- panel c ----
tu, vu = days_to_time(C_START, C_VDISP_UPPER)
tl, vl = days_to_time(C_START, C_VDISP_LOWER)
fig.add_trace(go.Scatter(x=tu + tl[::-1], y=vu + vl[::-1], xaxis="x3", yaxis="y7", mode="lines",
                         fill="toself", fillcolor=GREEN, line=dict(color=GREEN, width=3),
                         showlegend=False))
t, v = days_to_time(C_START, C_HDISP)
fig.add_trace(go.Scatter(x=t, y=v, xaxis="x3", yaxis="y8", mode="lines",
                         line=dict(color=ORANGE, width=8), showlegend=False))

frame = dict(showline=True, linecolor="black", linewidth=2.2, ticks="outside", ticklen=7,
             tickwidth=2.2, tickcolor="black", zeroline=False, automargin=False)
grid = dict(showgrid=True, gridcolor="#b0b0b0", gridwidth=1.6)


def time_axis(domain, anchor, start):
    t0 = pd.Timestamp(start)
    return dict(domain=domain, anchor=anchor, type="date",
                range=[t0, t0 + pd.Timedelta(hours=72)], tick0=t0, dtick=12 * 3600 * 1000,
                tickformat="%m-%d %H", mirror=True, tickfont=dict(size=FS, color="black"),
                ticklabelstandoff=-4, **frame, **grid)


def left_axis(domain, anchor, rng, dtick, color, title, **kw):
    return dict(domain=domain, anchor=anchor, range=rng, dtick=dtick, mirror=True,
                tickfont=dict(size=FS, color=color),
                title=dict(text=title, font=dict(size=FS, color=color), standoff=6),
                **frame, **kw)


def right_axis(over, anchor, rng, dtick, tick0, fmt, title):
    return dict(overlaying=over, anchor=anchor, side="right", range=rng, dtick=dtick,
                tick0=tick0, tickformat=fmt, showgrid=False,
                tickfont=dict(size=FS, color=ORANGE),
                title=dict(text=title, font=dict(size=FS, color=ORANGE), standoff=15),
                **frame)


DA_X, DA_Y = xdom(85, 1073), ydom(20, 405)
DB_X, DB_Y = xdom(85.5, 1075), ydom(466.5, 852)
DC_X, DC_Y = xdom(85.5, 1076.5), ydom(934.5, 1320)

fig.update_layout(
    width=W, height=H, margin=dict(l=0, r=0, t=0, b=0),
    paper_bgcolor="white", plot_bgcolor="white",
    font=dict(family=FONT, size=FS, color="black"),
    xaxis=time_axis(DA_X, "y", A_START),
    yaxis=left_axis(DA_Y, "x", A_VEL_RANGE, 100, BLUE, "Horizontal velocity [m/a]", **grid),
    yaxis2=dict(overlaying="y", range=A_VD_RANGE, visible=False),
    yaxis3=right_axis("y", "x", A_HD_RANGE, 0.02, 0.0, ".2f", "Horizontal displacment [m]"),
    xaxis2=time_axis(DB_X, "y4", B_START),
    yaxis4=left_axis(DB_Y, "x2", B_VEL_RANGE, 100, BLUE, "Horizontal velocity [m/a]", **grid),
    yaxis5=dict(overlaying="y4", range=B_VD_RANGE, visible=False),
    yaxis6=right_axis("y4", "x2", B_HD_RANGE, 0.02, 0.16, ".2f", "Horizontal displacment [m]"),
    xaxis3=dict(domain=DC_X, anchor="y7", type="date", range=["2020-02-01", "2021-01-01"],
                tick0="2020-02-01", dtick="M1", tickformat="%Y-%m", mirror=True, showgrid=False,
                tickfont=dict(size=FS, color="black"), ticklabelstandoff=-4, **frame),
    yaxis7=left_axis(DC_Y, "x3", C_VD_RANGE, 1, GREEN, "Vertical displacement [m]", showgrid=False),
    yaxis8=right_axis("y7", "x3", C_HD_RANGE, 0.1, 0.0, ".1f", "Horizontal displacment [m]"),
    legend=dict(x=1063 / W, y=1 - 28 / H, xanchor="right", yanchor="top",
                bgcolor="rgba(255,255,255,0.8)", bordercolor="#cccccc", borderwidth=1,
                font=dict(size=FS, color="black")),
    legend2=dict(x=96 / W, y=1 - 475 / H, xanchor="left", yanchor="top",
                 bgcolor="rgba(255,255,255,0.8)", bordercolor="#cccccc", borderwidth=1,
                 font=dict(size=FS, color="black")),
)

for letter, ypx in (("a", 18), ("b", 468), ("c", 937)):
    fig.add_annotation(text=f"<b>{letter}</b>", x=15 / W, y=1 - ypx / H, xref="paper", yref="paper",
                       showarrow=False, font=dict(size=20, color="black"),
                       xanchor="center", yanchor="middle")

fig.write_html("out.html")
